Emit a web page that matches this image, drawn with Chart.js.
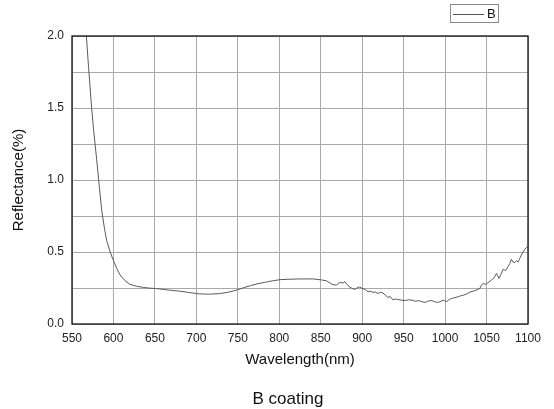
<!DOCTYPE html>
<html>
<head>
<meta charset="utf-8">
<style>
html,body{margin:0;padding:0;background:#fff;}
#c{display:block;}
</style>
<script src="https://cdn.jsdelivr.net/npm/chart.js@4"></script>
</head>
<body>
<canvas id="c" width="554" height="409"></canvas>
<script>
const wavelengths = [567, 570, 573.7, 576, 579.8, 583, 585.8, 589, 591.8, 596, 600, 604, 608, 614, 620, 628, 636, 644, 652, 660, 668, 680, 692, 704, 716, 728, 738, 748, 757, 765, 773, 783, 792, 801, 813, 825, 841, 851, 857, 863, 866, 869, 871, 874, 877, 879, 881, 883, 887, 891, 895, 897, 901, 904, 907, 910, 913, 916, 919, 922, 925, 928, 931, 934, 937, 940, 943, 947, 952, 956, 960, 964, 968, 972, 976, 980, 984, 988, 992, 995, 998, 1002, 1005, 1008, 1012, 1016, 1019, 1022, 1026, 1030, 1034, 1038, 1042, 1044, 1046, 1048, 1050, 1053, 1056, 1059, 1062, 1065, 1067, 1070, 1073, 1076, 1078, 1080, 1082, 1084, 1086, 1088, 1090, 1092, 1094, 1096, 1098, 1100];
const reflectanceB = [2.03, 1.78, 1.50, 1.35, 1.14, 0.95, 0.79, 0.67, 0.58, 0.50, 0.44, 0.385, 0.34, 0.30, 0.275, 0.262, 0.254, 0.249, 0.246, 0.24, 0.235, 0.228, 0.218, 0.209, 0.207, 0.211, 0.22, 0.235, 0.252, 0.266, 0.278, 0.29, 0.30, 0.308, 0.311, 0.313, 0.313, 0.306, 0.30, 0.278, 0.272, 0.27, 0.282, 0.29, 0.283, 0.295, 0.28, 0.266, 0.25, 0.24, 0.255, 0.256, 0.245, 0.238, 0.224, 0.228, 0.22, 0.222, 0.212, 0.22, 0.215, 0.2, 0.185, 0.19, 0.168, 0.174, 0.17, 0.166, 0.163, 0.168, 0.166, 0.158, 0.162, 0.155, 0.15, 0.16, 0.163, 0.153, 0.15, 0.158, 0.165, 0.156, 0.17, 0.178, 0.183, 0.19, 0.196, 0.2, 0.208, 0.222, 0.228, 0.236, 0.248, 0.27, 0.283, 0.275, 0.28, 0.292, 0.306, 0.32, 0.352, 0.317, 0.34, 0.38, 0.372, 0.398, 0.42, 0.45, 0.43, 0.426, 0.44, 0.43, 0.455, 0.479, 0.5, 0.519, 0.528, 0.54];
const xTickMin = 550, xTickMax = 1100, xTickStep = 50;
const yTickMin = 0, yTickMax = 2.0, yTickStep = 0.25, yLabelStep = 0.5;
const seriesName = 'B';
const xTitle = 'Wavelength(nm)';
const yTitle = 'Reflectance(%)';
const chartTitle = 'B coating';

const points = wavelengths.map((w, i) => ({x: w, y: reflectanceB[i]}));
const FONT = "'Liberation Sans', Arial, sans-serif";

const framePlugin = {
  id: 'frame',
  afterDraw(chart) {
    const ctx = chart.ctx;
    const a = chart.chartArea;
    ctx.save();
    ctx.strokeStyle = '#111';
    ctx.lineWidth = 1.3;
    ctx.strokeRect(a.left, a.top, a.right - a.left, a.bottom - a.top);
    // legend
    ctx.strokeStyle = '#8a8a8a';
    ctx.lineWidth = 1;
    ctx.strokeRect(450.5, 4.5, 48, 18);
    ctx.strokeStyle = '#555';
    ctx.beginPath();
    ctx.moveTo(453, 14.5);
    ctx.lineTo(484, 14.5);
    ctx.stroke();
    ctx.fillStyle = '#111';
    ctx.font = '13px ' + FONT;
    ctx.textBaseline = 'middle';
    ctx.textAlign = 'left';
    ctx.fillText(seriesName, 487, 14.5);
    // bottom title
    ctx.font = '17px ' + FONT;
    ctx.textAlign = 'center';
    ctx.fillText(chartTitle, 288, 399);
    ctx.restore();
  }
};

new Chart(document.getElementById('c'), {
  type: 'scatter',
  data: {
    datasets: [{
      label: seriesName,
      data: points,
      showLine: true,
      borderColor: '#5a5a5a',
      backgroundColor: '#5a5a5a',
      borderWidth: 1,
      pointRadius: 0,
      tension: 0
    }]
  },
  options: {
    responsive: false,
    animation: false,
    layout: {padding: {top: 36, right: 26, left: 0, bottom: 0}},
    plugins: {legend: {display: false}, tooltip: {enabled: false}, title: {display: false}},
    scales: {
      x: {
        type: 'linear',
        min: xTickMin, max: xTickMax,
        ticks: {stepSize: xTickStep, padding: 7, color: '#222', font: {family: FONT, size: 12}, maxRotation: 0, autoSkip: false,
          callback: (v) => String(v)},
        grid: {color: '#aaaaaa', lineWidth: 1, drawTicks: false},
        border: {display: false},
        title: {display: true, text: xTitle, color: '#111', font: {family: FONT, size: 15}, padding: {top: 0, bottom: 40}},
        afterFit(s) { s.height = 85; }
      },
      y: {
        type: 'linear',
        min: yTickMin, max: yTickMax,
        ticks: {
          stepSize: yTickStep, padding: 8, color: '#222', font: {family: FONT, size: 12}, autoSkip: false,
          callback: (v) => (Math.abs(v / yLabelStep - Math.round(v / yLabelStep)) < 1e-6 ? v.toFixed(1) : '')
        },
        grid: {color: '#aaaaaa', lineWidth: 1, drawTicks: false},
        border: {display: false},
        title: {display: true, text: yTitle, color: '#111', font: {family: FONT, size: 15}, padding: {top: 10, bottom: 0}},
        afterFit(s) { s.width = 72; }
      }
    }
  },
  plugins: [framePlugin]
});
</script>
</body>
</html>
